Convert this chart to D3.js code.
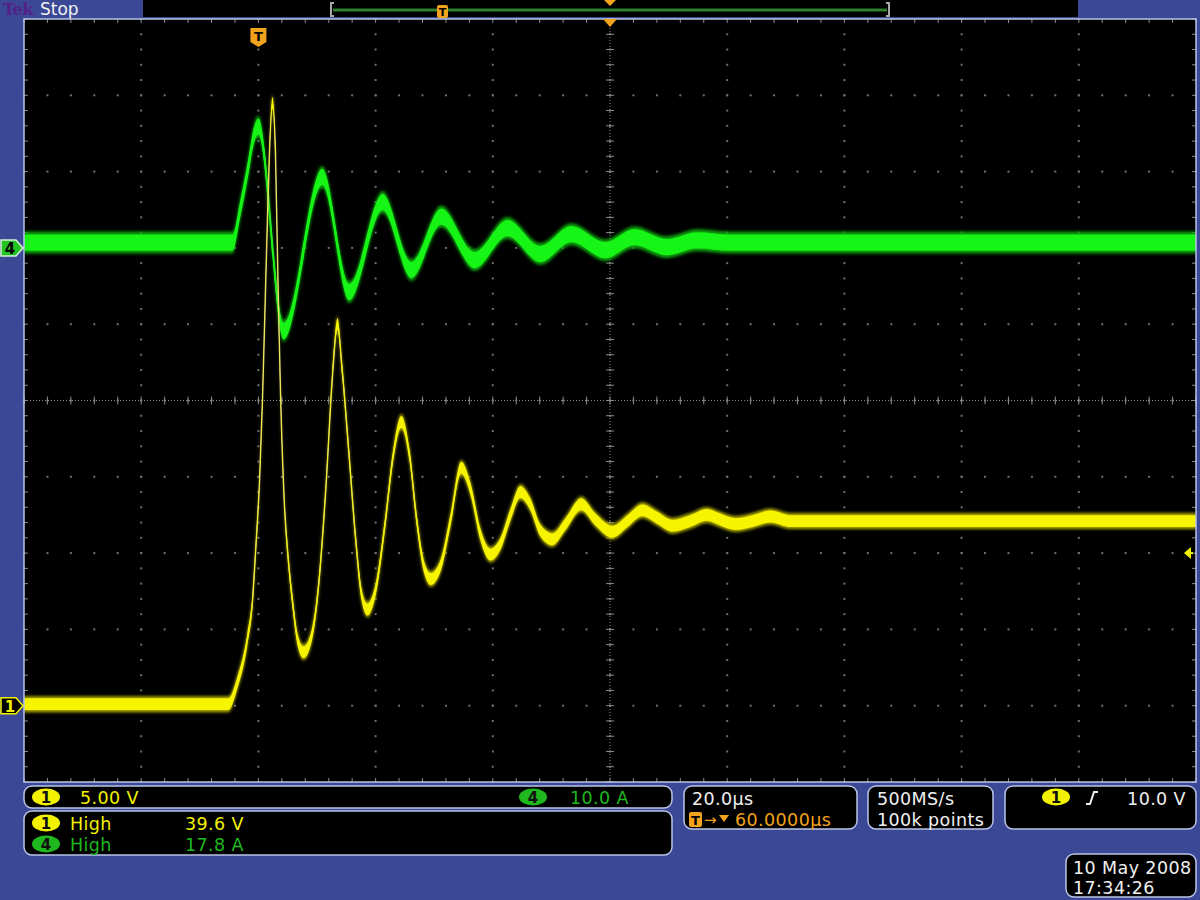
<!DOCTYPE html>
<html><head><meta charset="utf-8">
<script src="https://cdn.jsdelivr.net/npm/d3@7"></script>
<style>html,body{margin:0;padding:0;background:#3b4895;}svg{display:block;}</style>
</head><body>
<script>
// ---- Data (time in µs relative to trigger) ----
const yellowTime = [-40,-5.1,-3.6,-1.9,-1.0,-0.5,0.2,0.7,1.4,1.9,2.4,2.9,3.4,3.8,4.4,5.1,5.8,6.7,7.7,8.9,10.2,11.6,12.6,13.5,14.3,15.4,16.6,17.6,18.6,20.0,21.7,23.0,24.4,25.8,27.0,28.2,29.4,31.1,32.8,34.6,36.2,37.9,39.6,41.3,43.0,44.7,46.4,48.1,50.2,52.4,55.1,57.5,60.4,63.0,65.5,68.1,70.6,73.7,76.5,78.8,81.4,84.3,87.4,90.8,160];
const yellowVolts = [0.1,0.1,1.5,4.3,6.9,10.0,14.8,20.1,29.9,36.4,39.5,36.4,26.6,20.1,13.5,9.6,6.9,4.3,3.5,4.3,7.6,14.8,21.4,25.0,22.0,16.8,10.9,7.3,6.3,7.6,12.2,16.4,18.6,16.4,12.2,9.2,8.3,9.2,12.2,15.6,14.2,11.2,9.9,10.6,12.5,14.0,13.2,11.5,10.9,11.9,13.2,12.2,11.4,12.1,12.8,12.3,11.8,12.1,12.5,12.2,11.9,12.1,12.4,12.1,12.1];
const greenTime = [-40,-4.4,-3.1,-1.7,-0.9,0.0,4.3,10.9,15.5,21.2,26.1,31.2,36.9,42.5,48.1,53.4,59.2,64.2,69.6,74.9,80.5,160];
const greenAmps = [0.7,0.7,5.1,10.7,14.3,15.9,-10.9,9.3,-5.8,6.0,-2.9,4.1,-1.6,2.6,-0.8,1.8,-0.3,1.4,0.1,1.0,0.7,0.7];
const timeDomain = [-40,160];      // 20 µs/div, 10 div
const ch1Domain = [-5,45];         // 5.00 V/div
const ch4Domain = [-70,30];        // 10.0 A/div
const triggerLevel = 10.0;
const delayTime = 60;              // T -> center 60.0000 µs
const ch1Label = "5.00 V", ch4Label = "10.0 A";
const measLabels = ["High","High"], measValues = ["39.6 V","17.8 A"];
const timebase = "20.0µs", delayText = "60.0000µs";
const acqLines = ["500MS/s","100k points"];
const trigText = "10.0 V";
const dateLines = ["10 May 2008","17:34:26"];

const W=1200,H=900;
const L=24,R=1196,T=19,B=782;
const BLUE="#3b4895", FRAME="#b9c3e6", YEL="#f2f200", GRN="#1fb81f", ORG="#f2a31e", WHT="#f0f0f0";
const FONT="'DejaVu Sans', Verdana, sans-serif";

const svg=d3.select("body").append("svg").attr("width",W).attr("height",H);
const defs=svg.append("defs");
defs.append("clipPath").attr("id","plotclip").append("rect").attr("x",L).attr("y",T).attr("width",R-L).attr("height",B-T);
const f1=defs.append("filter").attr("id","blur").attr("x","-5%").attr("y","-5%").attr("width","110%").attr("height","110%");
f1.append("feGaussianBlur").attr("stdDeviation",1.6);
const f2=defs.append("filter").attr("id","blur2");
f2.append("feGaussianBlur").attr("stdDeviation",0.7);

svg.append("rect").attr("width",W).attr("height",H).attr("fill",BLUE);

const x=d3.scaleLinear().domain(timeDomain).range([L,R]);
const y1=d3.scaleLinear().domain(ch1Domain).range([B,T]);
const y4=d3.scaleLinear().domain(ch4Domain).range([B,T]);

// ---- top bar ----
const topBar=svg.append("g");
topBar.append("rect").attr("x",143).attr("y",0).attr("width",935).attr("height",17).attr("fill","#000");
topBar.append("text").attr("x",3).attr("y",15).attr("font-family","'DejaVu Serif', serif").attr("font-weight","bold").attr("font-size",16).attr("letter-spacing",-0.5).attr("fill","#55208a").text("Tek");
topBar.append("text").attr("x",40).attr("y",15).attr("font-family",FONT).attr("font-size",17).attr("fill",WHT).text("Stop");
topBar.append("line").attr("x1",333).attr("x2",887).attr("y1",10).attr("y2",10).attr("stroke","#2f7f2f").attr("stroke-width",3);
[331,889].forEach((bx,i)=>{
  topBar.append("path").attr("d",`M${bx+(i?-3:3)},3 L${bx},3 L${bx},16 L${bx+(i?-3:3)},16`).attr("fill","none").attr("stroke","#a8a8a8").attr("stroke-width",2);
});
topBar.append("rect").attr("x",437).attr("y",5).attr("width",11).attr("height",13).attr("rx",2).attr("fill",ORG);
topBar.append("text").attr("x",442.5).attr("y",16).attr("text-anchor","middle").attr("font-family",FONT).attr("font-weight","bold").attr("font-size",11).attr("fill","#000").text("T");
topBar.append("path").attr("d",`M${x(delayTime)-6},0 L${x(delayTime)+6},0 L${x(delayTime)},6 Z`).attr("fill",ORG);

// ---- plot area ----
svg.append("rect").attr("x",L).attr("y",T).attr("width",R-L).attr("height",B-T).attr("fill","#000");
const grid=svg.append("g");
const xMaj=d3.range(timeDomain[0],timeDomain[1]+0.01,20);
const xMin=d3.range(timeDomain[0],timeDomain[1]+0.01,4);
const yMaj=d3.range(ch1Domain[0],ch1Domain[1]+0.01,5);
const yMin=d3.range(ch1Domain[0],ch1Domain[1]+0.01,1);
const dots=[];
xMaj.slice(1,-1).forEach(t=>yMin.forEach(v=>dots.push([x(t),y1(v)])));
yMaj.slice(1,-1).forEach(v=>xMin.forEach(t=>dots.push([x(t),y1(v)])));
grid.selectAll("rect.dot").data(dots).join("rect").attr("class","dot")
  .attr("x",d=>d[0]-1).attr("y",d=>d[1]-1).attr("width",2).attr("height",2).attr("fill","#6f6f6f");
// center crosshair
const cx=x(60), cy=y1(20);
grid.append("line").attr("x1",L).attr("x2",R).attr("y1",cy).attr("y2",cy).attr("stroke","#8a8a8a").attr("stroke-width",1).attr("stroke-dasharray","1,2");
grid.append("line").attr("x1",cx).attr("x2",cx).attr("y1",T).attr("y2",B).attr("stroke","#8a8a8a").attr("stroke-width",1).attr("stroke-dasharray","1,2");
xMin.forEach(t=>grid.append("line").attr("x1",x(t)).attr("x2",x(t)).attr("y1",cy-4).attr("y2",cy+4).attr("stroke","#8a8a8a"));
yMin.forEach(v=>grid.append("line").attr("x1",cx-4).attr("x2",cx+4).attr("y1",y1(v)).attr("y2",y1(v)).attr("stroke","#8a8a8a"));
// edge ticks
xMin.forEach(t=>{
  grid.append("line").attr("x1",x(t)).attr("x2",x(t)).attr("y1",T).attr("y2",T+4).attr("stroke","#8a8a8a");
  grid.append("line").attr("x1",x(t)).attr("x2",x(t)).attr("y1",B-4).attr("y2",B).attr("stroke","#8a8a8a");
});
yMin.forEach(v=>{
  grid.append("line").attr("x1",L).attr("x2",L+4).attr("y1",y1(v)).attr("y2",y1(v)).attr("stroke","#8a8a8a");
  grid.append("line").attr("x1",R-4).attr("x2",R).attr("y1",y1(v)).attr("y2",y1(v)).attr("stroke","#8a8a8a");
});

// ---- traces ----
const traces=svg.append("g").attr("clip-path","url(#plotclip)");
function drawTrace(times,vals,ys,h,outer,inner,lineCol,lw){
  const data=times.map((t,i)=>({t,v:vals[i]}));
  const area=(hh)=>d3.area().x(d=>x(d.t)).y0(d=>ys(d.v)+hh).y1(d=>ys(d.v)-hh).curve(d3.curveMonotoneX);
  const line=d3.line().x(d=>x(d.t)).y(d=>ys(d.v)).curve(d3.curveMonotoneX);
  traces.append("path").datum(data).attr("d",area(h)).attr("fill",outer).attr("filter","url(#blur)");
  traces.append("path").datum(data).attr("d",line).attr("fill","none").attr("stroke",lineCol).attr("stroke-width",lw);
  traces.append("path").datum(data).attr("d",area(h*0.74)).attr("fill",inner).attr("filter","url(#blur2)");
}
drawTrace(greenTime,greenAmps,y4,11,"#0c9f0c","#14f514","#3cf03c",1.8);
drawTrace(yellowTime,yellowVolts,y1,8,"#b0ac00","#f6f400","#e6de84",1.4);

// frame
svg.append("rect").attr("x",L).attr("y",T).attr("width",R-L).attr("height",B-T).attr("fill","none").attr("stroke",FRAME).attr("stroke-width",1.5);

// trigger markers on plot
const tx=x(0);
svg.append("path").attr("d",`M${tx-8},28 L${tx+8},28 L${tx+8},42 L${tx},47 L${tx-8},42 Z`).attr("fill",ORG);
svg.append("text").attr("x",tx).attr("y",41).attr("text-anchor","middle").attr("font-family",FONT).attr("font-weight","bold").attr("font-size",13).attr("fill","#000").text("T");
svg.append("path").attr("d",`M${cx-7},${T} L${cx+7},${T} L${cx},${T+8} Z`).attr("fill",ORG);
// trigger level arrow (right)
const ty=y1(triggerLevel);
svg.append("path").attr("d",`M${R-12},${ty} L${R-5},${ty-6} L${R-5},${ty+6} Z`).attr("fill",YEL);
svg.append("line").attr("x1",R-6).attr("x2",R-3).attr("y1",ty).attr("y2",ty).attr("stroke",YEL).attr("stroke-width",2);
// channel ground markers
function chMarker(yy,fill,stroke,txt,tcol){
  svg.append("path").attr("d",`M1,${yy-8} L16,${yy-8} L23,${yy} L16,${yy+8} L1,${yy+8} Z`).attr("fill",fill).attr("stroke",stroke).attr("stroke-width",1.5);
  svg.append("text").attr("x",10).attr("y",yy+6).attr("text-anchor","middle").attr("font-family",FONT).attr("font-weight","bold").attr("font-size",15).attr("fill",tcol).text(txt);
}
chMarker(y4(0),"#22c322","#d8f0d8","4","#000");
chMarker(y1(0),"#000",YEL,"1",YEL);

// ---- bottom panels ----
function panel(x0,y0,w,h){
  svg.append("rect").attr("x",x0).attr("y",y0).attr("width",w).attr("height",h).attr("rx",8).attr("fill","#000").attr("stroke",FRAME).attr("stroke-width",1.5);
}
function txt(xx,yy,s,col,anchor){
  svg.append("text").attr("x",xx).attr("y",yy).attr("font-family",FONT).attr("font-size",17.5).attr("letter-spacing",0.4).attr("fill",col).attr("text-anchor",anchor||"start").text(s);
}
function badge(xx,yy,fill,s){
  svg.append("ellipse").attr("cx",xx).attr("cy",yy).attr("rx",14).attr("ry",8.5).attr("fill",fill);
  svg.append("text").attr("x",xx).attr("y",yy+5.5).attr("text-anchor","middle").attr("font-family",FONT).attr("font-weight","bold").attr("font-size",15).attr("fill","#101010").text(s);
}
panel(24,786,648,22);
badge(46,797,YEL,"1"); txt(80,804,ch1Label,YEL);
badge(533,797,GRN,"4"); txt(570,804,ch4Label,GRN);
panel(24,811,648,44);
badge(46,823,YEL,"1"); txt(70,830,measLabels[0],YEL); txt(185,830,measValues[0],YEL);
badge(46,844,GRN,"4"); txt(70,851,measLabels[1],GRN); txt(185,851,measValues[1],GRN);

panel(684,786,173,43);
txt(692,805,timebase,WHT);
svg.append("rect").attr("x",689).attr("y",812).attr("width",13).attr("height",15).attr("rx",2).attr("fill",ORG);
svg.append("text").attr("x",695.5).attr("y",825).attr("text-anchor","middle").attr("font-family",FONT).attr("font-weight","bold").attr("font-size",13).attr("fill","#000").text("T");
svg.append("text").attr("x",704).attr("y",825).attr("font-family",FONT).attr("font-size",15).attr("fill",ORG).text("→");
svg.append("path").attr("d","M719,815 L729,815 L724,822 Z").attr("fill",ORG);
txt(735,826,delayText,ORG);

panel(868,786,125,43);
txt(877,805,acqLines[0],WHT);
txt(877,826,acqLines[1],WHT);

panel(1005,786,191,43);
badge(1056,797,YEL,"1");
svg.append("path").attr("d","M1086,804 L1090,804 L1094,792 L1098,792").attr("fill","none").attr("stroke",WHT).attr("stroke-width",2);
txt(1186,805,trigText,WHT,"end");

panel(1066,854,130,43);
txt(1073,874,dateLines[0],WHT);
txt(1073,894,dateLines[1],WHT);
</script>
</body></html>
